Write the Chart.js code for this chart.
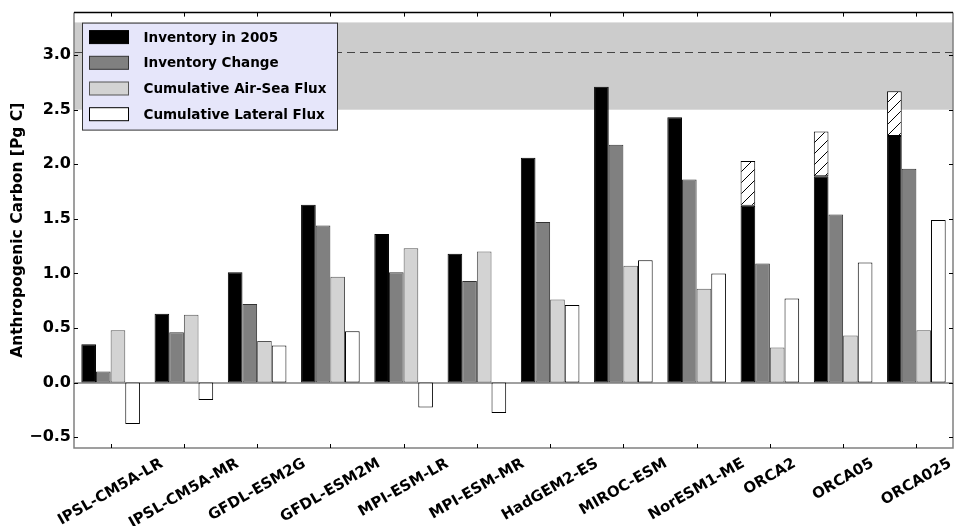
<!DOCTYPE html>
<html>
<head>
<meta charset="utf-8">
<script src="https://cdn.jsdelivr.net/npm/chart.js@4.4.1/dist/chart.umd.min.js"></script>
<style>
body { margin: 0; background: #fff; }
#chart { display: block; }
</style>
</head>
<body>
<canvas id="chart" width="956" height="526"></canvas>
<script>
// Anthropogenic carbon per model [Pg C]
const models = ['IPSL-CM5A-LR', 'IPSL-CM5A-MR', 'GFDL-ESM2G', 'GFDL-ESM2M', 'MPI-ESM-LR', 'MPI-ESM-MR',
    'HadGEM2-ES', 'MIROC-ESM', 'NorESM1-ME', 'ORCA2', 'ORCA05', 'ORCA025'];
const inventory2005 = [0.35, 0.63, 1.01, 1.63, 1.36, 1.18, 2.06, 2.71, 2.43, 1.62, 1.89, 2.26];
const inventoryExtra = [null, null, null, null, null, null, null, null, null, 0.41, 0.41, 0.41];
const inventoryChange = [0.10, 0.46, 0.72, 1.44, 1.01, 0.93, 1.47, 2.18, 1.86, 1.09, 1.54, 1.96];
const airSeaFlux = [0.48, 0.62, 0.38, 0.97, 1.23, 1.20, 0.76, 1.07, 0.86, 0.32, 0.43, 0.48];
const lateralFlux = [-0.38, -0.16, 0.34, 0.47, -0.23, -0.28, 0.71, 1.12, 1.00, 0.77, 1.10, 1.49];
const legendLabels = ['Inventory in 2005', 'Inventory Change', 'Cumulative Air-Sea Flux', 'Cumulative Lateral Flux'];
const yTicks = [-0.5, 0.0, 0.5, 1.0, 1.5, 2.0, 2.5, 3.0];
const observedRange = [2.5, 3.3];
const observedBest = 3.03;

const labelFont = 'bold 13.5px "DejaVu Sans"';

function makeHatch() {
    const c = document.createElement('canvas');
    c.width = 11; c.height = 11;
    const g = c.getContext('2d');
    g.fillStyle = '#fff';
    g.fillRect(0, 0, 11, 11);
    g.strokeStyle = '#000';
    g.lineWidth = 1;
    g.beginPath();
    g.moveTo(-1, 12); g.lineTo(12, -1);
    g.moveTo(-1, 1); g.lineTo(1, -1);
    g.moveTo(10, 12); g.lineTo(12, 10);
    g.stroke();
    return g.createPattern(c, 'repeat');
}

const swatches = [
    { fill: '#000000', edge: '#000000' },
    { fill: '#808080', edge: '#333333' },
    { fill: '#d3d3d3', edge: '#555555' },
    { fill: '#ffffff', edge: '#000000' }
];

const decor = {
    id: 'decor',
    beforeDatasetsDraw(chart) {
        const { ctx, chartArea: a, scales: { y } } = chart;
        ctx.save();
        const yt = y.getPixelForValue(observedRange[1]);
        const yb = y.getPixelForValue(observedRange[0]);
        ctx.fillStyle = '#cccccc';
        ctx.fillRect(a.left, yt, a.right - a.left, yb - yt);

        const yd = Math.round(y.getPixelForValue(observedBest)) + 0.5;
        ctx.strokeStyle = '#444';
        ctx.lineWidth = 1;
        ctx.setLineDash([8, 5]);
        ctx.beginPath();
        ctx.moveTo(a.left, yd); ctx.lineTo(a.right, yd);
        ctx.stroke();

        ctx.setLineDash([]);
        const y0 = Math.round(y.getPixelForValue(0));
        ctx.strokeStyle = '#808080';
        ctx.lineWidth = 1.5;
        ctx.beginPath();
        ctx.moveTo(a.left, y0); ctx.lineTo(a.right, y0);
        ctx.stroke();
        ctx.restore();
    },
    afterDraw(chart) {
        const { ctx, chartArea: a, scales: { x, y } } = chart;
        ctx.save();

        // frame
        ctx.lineWidth = 1.5;
        ctx.strokeStyle = '#808080';
        ctx.beginPath();
        ctx.moveTo(a.left, a.top); ctx.lineTo(a.left, a.bottom);
        ctx.lineTo(a.right, a.bottom); ctx.lineTo(a.right, a.top);
        ctx.stroke();
        ctx.strokeStyle = '#000';
        ctx.beginPath();
        ctx.moveTo(a.left, a.top); ctx.lineTo(a.right, a.top);
        ctx.stroke();

        // inward ticks
        ctx.lineWidth = 1;
        ctx.strokeStyle = '#000';
        ctx.beginPath();
        y.ticks.forEach(t => {
            const py = Math.round(y.getPixelForValue(t.value)) + 0.5;
            ctx.moveTo(a.left, py); ctx.lineTo(a.left + 4, py);
            ctx.moveTo(a.right, py); ctx.lineTo(a.right - 4, py);
        });
        models.forEach((m, i) => {
            const px = Math.round(x.getPixelForValue(i)) + 0.5;
            ctx.moveTo(px, a.bottom); ctx.lineTo(px, a.bottom - 4);
            ctx.moveTo(px, a.top); ctx.lineTo(px, a.top + 4);
        });
        ctx.stroke();

        // rotated category labels, centred on the tick
        ctx.font = 'bold 15px "DejaVu Sans"';
        ctx.fillStyle = '#000';
        ctx.textAlign = 'center';
        ctx.textBaseline = 'middle';
        const rot = 30 * Math.PI / 180;
        models.forEach((m, i) => {
            const w = ctx.measureText(m).width;
            const h = 15;
            const H = w * Math.sin(rot) + h * Math.cos(rot);
            const cx = x.getPixelForValue(i);
            const cy = a.bottom + 8 + H / 2;
            ctx.save();
            ctx.translate(cx, cy);
            ctx.rotate(-rot);
            ctx.fillText(m, 0, 0);
            ctx.restore();
        });

        // legend
        const bx = a.left + 8.5, by = a.top + 10.5, bw = 255, bh = 107;
        ctx.fillStyle = '#e6e6fa';
        ctx.fillRect(bx, by, bw, bh);
        ctx.strokeStyle = '#333';
        ctx.lineWidth = 1;
        ctx.strokeRect(bx, by, bw, bh);
        ctx.font = labelFont;
        ctx.textAlign = 'left';
        ctx.textBaseline = 'middle';
        legendLabels.forEach((lab, i) => {
            const ry = by + 14 + i * 25.7;
            ctx.fillStyle = swatches[i].fill;
            ctx.fillRect(bx + 7, ry - 6.5, 39, 13);
            ctx.strokeStyle = swatches[i].edge;
            ctx.strokeRect(bx + 7, ry - 6.5, 39, 13);
            ctx.fillStyle = '#000';
            ctx.fillText(lab, bx + 61, ry + 1);
        });
        ctx.restore();
    }
};

const barStyle = { borderWidth: 1, borderSkipped: false, categoryPercentage: 0.8, barPercentage: 1.0 };

new Chart(document.getElementById('chart'), {
    type: 'bar',
    data: {
        labels: models,
        datasets: [
            { ...barStyle, label: legendLabels[0], data: inventory2005, stack: 'a', backgroundColor: '#000000', borderColor: '#000000' },
            { ...barStyle, label: 'extra', data: inventoryExtra, stack: 'a', backgroundColor: makeHatch(), borderColor: '#000000' },
            { ...barStyle, label: legendLabels[1], data: inventoryChange, stack: 'b', backgroundColor: '#808080', borderColor: '#333333' },
            { ...barStyle, label: legendLabels[2], data: airSeaFlux, stack: 'c', backgroundColor: '#d3d3d3', borderColor: '#555555' },
            { ...barStyle, label: legendLabels[3], data: lateralFlux, stack: 'd', backgroundColor: '#ffffff', borderColor: '#000000' }
        ]
    },
    options: {
        responsive: false,
        animation: false,
        layout: { padding: { left: 0, right: 3, top: 8, bottom: 0 } },
        plugins: { legend: { display: false }, tooltip: { enabled: false } },
        scales: {
            x: {
                stacked: true,
                grid: { display: false, drawTicks: false },
                border: { display: false },
                ticks: { display: false },
                afterFit(scale) { scale.height = 78; }
            },
            y: {
                stacked: true,
                min: -0.6,
                max: 3.39,
                grid: { display: false, drawTicks: false },
                border: { display: false },
                afterBuildTicks(scale) { scale.ticks = yTicks.map(v => ({ value: v })); },
                ticks: {
                    padding: 3,
                    color: '#000',
                    font: { family: 'DejaVu Sans', weight: 'bold', size: 16 },
                    callback: v => (v < 0 ? '\u2212' : '') + Math.abs(v).toFixed(1)
                },
                title: {
                    display: true,
                    text: 'Anthropogenic Carbon [Pg C]',
                    color: '#000',
                    padding: { top: 9, bottom: 0 },
                    font: { family: 'DejaVu Sans', weight: 'bold', size: 15.5 }
                },
                afterFit(scale) { scale.width = 74; }
            }
        }
    },
    plugins: [decor]
});
</script>
</body>
</html>
